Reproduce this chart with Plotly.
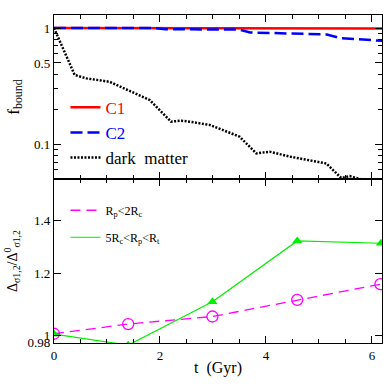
import plotly.graph_objs as go

# top panel: bound fraction vs time
t_c1 = [0, 1, 2, 3, 4, 5, 6.19]
f_c1 = [1.0, 1.0, 0.997, 0.995, 0.993, 0.99, 0.99]

t_c2 = [0, 1.9, 2.1, 3.5, 3.7, 5.15, 5.4, 6.19]
f_c2 = [1.0, 1.0, 0.975, 0.97, 0.915, 0.88, 0.82, 0.775]

t_dm = [0, 0.39, 0.61, 1.05, 1.81, 2.21, 2.4, 2.56, 2.94, 3.5, 3.82, 4.07, 4.45, 5.14, 5.42, 5.58, 5.83]
f_dm = [1.0, 0.394, 0.368, 0.344, 0.239, 0.156, 0.159, 0.156, 0.146, 0.116, 0.083, 0.086, 0.078, 0.068, 0.051, 0.053, 0.049]

# bottom panel: dispersion ratio
t_in = [0, 1.40, 2.99, 4.59, 6.16]
r_in = [1.005, 1.034, 1.057, 1.110, 1.162]

t_out = [0, 1.40, 2.99, 4.59, 6.17]
r_out = [1.004, 0.972, 1.104, 1.319, 1.310]

top_ticks = [0.1, 0.5, 1]
top_minor = [0.06, 0.07, 0.08, 0.09, 0.2, 0.3, 0.4, 0.6, 0.7, 0.8, 0.9]
bot_ticks = [0.98, 1, 1.2, 1.4]
x_ticks = [0, 2, 4, 6]

serif = "'Liberation Serif', 'DejaVu Serif', serif"

data = [
    go.Scatter(x=t_c1, y=f_c1, mode='lines', xaxis='x2', yaxis='y',
               line=dict(color='#ff0000', width=2.5),
               name="<span style='color:#ff0000'>C1</span>", legend='legend'),
    go.Scatter(x=t_c2, y=f_c2, mode='lines', xaxis='x2', yaxis='y',
               line=dict(color='#0000ff', width=2.5, dash='12px,5px'),
               name="<span style='color:#0000ff'>C2</span>", legend='legend'),
    go.Scatter(x=t_dm, y=f_dm, mode='lines', xaxis='x2', yaxis='y',
               line=dict(color='#000000', width=2.5, dash='2px,1.5px'),
               name='dark  matter', legend='legend'),
    go.Scatter(x=t_in, y=r_in, mode='lines', xaxis='x', yaxis='y2',
               line=dict(color='#ff00ff', width=1.3, dash='10px,6px'),
               name='R<sub>p</sub>&lt;2R<sub>c</sub>', legend='legend2', legendgroup='in'),
    go.Scatter(x=t_in, y=r_in, mode='markers', xaxis='x', yaxis='y2', showlegend=False,
               marker=dict(symbol='circle-open', size=11, color='#ff00ff', line=dict(width=1.3))),
    go.Scatter(x=t_out, y=r_out, mode='lines', xaxis='x', yaxis='y2',
               line=dict(color='#00ee00', width=1.2),
               name='5R<sub>c</sub>&lt;R<sub>p</sub>&lt;R<sub>t</sub>', legend='legend2', legendgroup='out'),
    go.Scatter(x=t_out, y=r_out, mode='markers', xaxis='x', yaxis='y2', showlegend=False,
               marker=dict(symbol='triangle-up', size=9, color='#00ee00')),
]

axis_common = dict(showline=True, linecolor='black', linewidth=1.2, mirror='allticks',
                   ticks='inside', ticklen=7, tickcolor='black', showgrid=False,
                   zeroline=False, automargin=False)

layout = go.Layout(
    width=391, height=391,
    margin=dict(l=54, r=9, t=15, b=48),
    paper_bgcolor='white', plot_bgcolor='white',
    font=dict(family=serif, size=13, color='black'),
    xaxis=dict(axis_common, domain=[0, 1], anchor='y2', range=[0, 6.19],
               tickvals=x_ticks, ticktext=[str(v) for v in x_ticks],
               minor=dict(dtick=0.5, ticklen=4, ticks='inside', tickcolor='black'),
               title=dict(text='t  (Gyr)', font=dict(family=serif, size=16), standoff=0)),
    xaxis2=dict(axis_common, domain=[0, 1], anchor='y', matches='x', range=[0, 6.19],
                tickvals=x_ticks, showticklabels=False,
                minor=dict(dtick=0.5, ticklen=4, ticks='inside', tickcolor='black')),
    yaxis=dict(axis_common, domain=[0.5, 1], anchor='x2', type='log', range=[-1.301, 0.112],
               tickvals=top_ticks, ticktext=['0.1', '0.5', '1'],
               minor=dict(tickvals=top_minor, ticklen=4, ticks='inside', tickcolor='black'),
               title=dict(text='f<sub>bound</sub>', font=dict(family=serif, size=17), standoff=10)),
    yaxis2=dict(axis_common, domain=[0, 0.5], anchor='x', type='log', range=[-0.0096, 0.199],
                tickvals=bot_ticks, ticktext=['0.98', '1', '1.2', '1.4'],
                title=dict(text='Δ<sub>σ1,2</sub>/Δ<sup>0</sup><sub>σ1,2</sub>',
                           font=dict(family=serif, size=14), standoff=6)),
    legend=dict(x=0.035, y=0.772, xanchor='left', yanchor='top', bgcolor='rgba(0,0,0,0)',
                font=dict(family=serif, size=17), tracegroupgap=0),
    legend2=dict(x=0.035, y=0.449, xanchor='left', yanchor='top', bgcolor='rgba(0,0,0,0)',
                 font=dict(family=serif, size=12), tracegroupgap=8),
)

fig = go.Figure(data=data, layout=layout)
# drop the page's default body margin so the 391px figure fills the window
fig.write_html("out.html", config={'displayModeBar': False},
               post_script="document.body.style.margin='0px';")
